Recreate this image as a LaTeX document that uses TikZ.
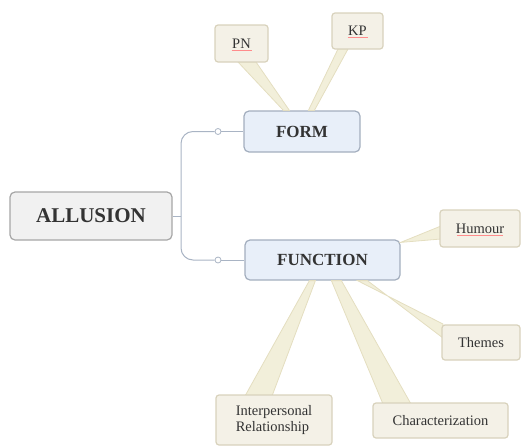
\documentclass[tikz,border=0pt]{standalone}
\usepackage{fontspec}
\setmainfont{Liberation Serif}
\newfontfamily\diagserif{Liberation Serif}
\usetikzlibrary{calc}
\definecolor{wedgefill}{HTML}{F2EFDA}
\definecolor{wedgedraw}{HTML}{E4DEC0}
\definecolor{leaffill}{HTML}{F4F1E7}
\definecolor{leafdraw}{HTML}{D8D2BC}
\definecolor{mainfill}{HTML}{E8EFF9}
\definecolor{maindraw}{HTML}{A3AEBE}
\definecolor{rootfill}{HTML}{F1F1F1}
\definecolor{rootdraw}{HTML}{A6A6A6}
\definecolor{linkcol}{HTML}{A9B4C4}
\definecolor{txt}{HTML}{333333}
\begin{document}
\begin{tikzpicture}[x=1pt,y=-1pt,
  leaf/.style={draw=leafdraw,fill=leaffill,line width=1.2pt,rounded corners=3pt,inner sep=0pt,text=txt,font=\diagserif\fontsize{14.5}{16}\selectfont},
  mainbox/.style={draw=maindraw,fill=mainfill,line width=1.2pt,rounded corners=5pt,inner sep=0pt,text=txt,font=\diagserif\fontsize{17}{19}\selectfont\bfseries},
  rootbox/.style={draw=rootdraw,fill=rootfill,line width=1.2pt,rounded corners=5pt,inner sep=0pt,text=txt,font=\diagserif\fontsize{21}{23}\selectfont\bfseries},
  wedge/.style={fill=wedgefill,draw=wedgedraw,line width=0.8pt},
  link/.style={draw=linkcol,line width=1pt},
  knob/.style={circle,draw=linkcol,fill=white,line width=0.8pt,inner sep=0pt,minimum size=6pt},
  spell/.style={red!45,line width=0.5pt}
]
\useasboundingbox (0,0) rectangle (521,447);

% nodes
\node[rootbox,minimum width=162pt,minimum height=48pt] (allusion) at (91,216) {ALLUSION};
\node[mainbox,minimum width=116pt,minimum height=41pt] (form) at (302,131.5) {FORM};
\node[mainbox,minimum width=155pt,minimum height=40pt] (function) at (322.5,260) {FUNCTION};

% wedges
\filldraw[wedge] (238,62) -- (256,62) -- ($(form.north west)+(46,0)$) -- ($(form.north west)+(40,0)$) -- cycle;
\filldraw[wedge] (338,49) -- (348,49) -- ($(form.north west)+(71,0)$) -- ($(form.north west)+(65,0)$) -- cycle;
\filldraw[wedge] (441,226) -- (441,239) -- ($(function.north east)+(0,3)$) -- cycle;
\filldraw[wedge] (443,324) -- (443,338) -- ($(function.south west)+(123,0)$) -- ($(function.south west)+(113,0)$) -- cycle;
\filldraw[wedge] (383,404) -- (411,404) -- ($(function.south west)+(97,0)$) -- ($(function.south west)+(87,0)$) -- cycle;
\filldraw[wedge] (245,396) -- (272,396) -- ($(function.south west)+(71,0)$) -- ($(function.south west)+(65,0)$) -- cycle;

\node[leaf,minimum width=53pt,minimum height=37pt] (pn) at (241.5,43.5) {PN};
\node[leaf,minimum width=51pt,minimum height=36pt] (kp) at (357.5,31) {KP};
\node[leaf,minimum width=80pt,minimum height=37pt] (humour) at (480,228.5) {Humour};
\node[leaf,minimum width=78pt,minimum height=35pt] (themes) at (481,342.5) {Themes};
\node[leaf,minimum width=116pt,minimum height=50pt,align=left] (inter) at (274,420) {Interpersonal\\Relationship};
\node[leaf,minimum width=135pt,minimum height=35pt] (charac) at (440.5,420.5) {Characterization};

% red spell-check underlines
\draw[spell] ($(pn.center)+(-10,6.5)$) -- ($(pn.center)+(10,6.5)$);
\draw[spell] ($(kp.center)+(-10,6.5)$) -- ($(kp.center)+(10,6.5)$);
\draw[spell] ($(humour.center)+(-23,6.5)$) -- ($(humour.center)+(23,6.5)$);

% connectors
\coordinate (fork) at (181,216);
\node[knob] (k1) at (218,131.5) {};
\node[knob] (k2) at (218,260) {};
\draw[link] (allusion.east) -- (fork);
\draw[link,rounded corners=12pt] (fork) |- (k1);
\draw[link,rounded corners=12pt] (fork) |- (k2);
\draw[link] (k1) -- (form.west);
\draw[link] (k2) -- (function.west);
\end{tikzpicture}
\end{document}
